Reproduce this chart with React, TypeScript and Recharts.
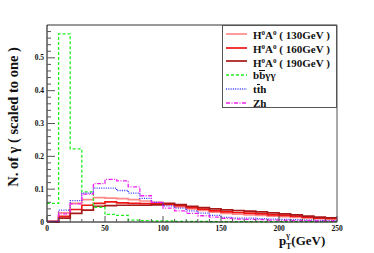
import React from 'react';
import { LineChart, Line, XAxis, YAxis, ReferenceLine } from 'recharts';

// bin left edges (GeV), 10 GeV bins up to 250
const binEdges = [0, 10, 20, 30, 40, 50, 60, 70, 80, 90, 100, 110, 120, 130, 140, 150, 160, 170, 180, 190, 200, 210, 220, 230, 240, 250];

const ha130 = [0.002, 0.028, 0.057, 0.068, 0.074, 0.073, 0.071, 0.068, 0.064, 0.060, 0.052, 0.046, 0.040, 0.035, 0.030, 0.026, 0.024, 0.022, 0.020, 0.018, 0.016, 0.014, 0.011, 0.010, 0.009];
const ha160 = [0.001, 0.017, 0.038, 0.051, 0.057, 0.061, 0.058, 0.057, 0.056, 0.055, 0.054, 0.050, 0.044, 0.039, 0.034, 0.031, 0.029, 0.027, 0.025, 0.022, 0.020, 0.018, 0.015, 0.012, 0.011];
const ha190 = [0.001, 0.012, 0.026, 0.036, 0.048, 0.050, 0.051, 0.051, 0.051, 0.052, 0.057, 0.053, 0.048, 0.044, 0.040, 0.037, 0.035, 0.033, 0.031, 0.028, 0.025, 0.022, 0.018, 0.015, 0.013];
const bbgg = [0.057, 0.573, 0.223, 0.092, 0.045, 0.023, 0.020, 0.006, 0.004, 0.003, 0.003, 0.002, 0.002, 0.002, 0.001, 0.001, 0.001, 0.001, 0.001, 0.001, 0.001, 0.001, 0.001, 0.001, 0.001];
const tth = [0.002, 0.036, 0.065, 0.088, 0.103, 0.103, 0.096, 0.088, 0.072, 0.060, 0.049, 0.042, 0.034, 0.027, 0.020, 0.014, 0.012, 0.012, 0.010, 0.009, 0.008, 0.007, 0.006, 0.005, 0.004];
const zh = [0.001, 0.025, 0.055, 0.085, 0.117, 0.130, 0.125, 0.107, 0.080, 0.060, 0.042, 0.034, 0.026, 0.019, 0.015, 0.011, 0.009, 0.008, 0.007, 0.006, 0.005, 0.004, 0.004, 0.003, 0.003];

const yTicks = [0, 0.02, 0.04, 0.06, 0.08, 0.1, 0.12, 0.14, 0.16, 0.18, 0.2, 0.22, 0.24, 0.26, 0.28, 0.3, 0.32, 0.34, 0.36, 0.38, 0.4, 0.42, 0.44, 0.46, 0.48, 0.5, 0.52, 0.54, 0.56, 0.58];
const yMajor = [0, 0.1, 0.2, 0.3, 0.4, 0.5];

const series = [
  { key: 'ha130', values: ha130, color: '#ff8a8a', width: 1.7, dash: undefined, label: '130GeV' },
  { key: 'ha160', values: ha160, color: '#ee1515', width: 1.7, dash: undefined, label: '160GeV' },
  { key: 'ha190', values: ha190, color: '#a81818', width: 1.7, dash: undefined, label: '190GeV' },
  { key: 'bbgg', values: bbgg, color: '#22ee22', width: 1.3, dash: '3 2', label: 'bb' },
  { key: 'tth', values: tth, color: '#3333ff', width: 1.3, dash: '1 1.3', label: 'tth' },
  { key: 'zh', values: zh, color: '#ee22ee', width: 1.3, dash: '4 1.5 1 1.5', label: 'Zh' },
];

const data = binEdges.map((x, i) => {
  const row: { [k: string]: number } = { x };
  series.forEach((s) => {
    row[s.key] = s.values[Math.min(i, s.values.length - 1)];
  });
  return row;
});

const W = 374;
const H = 253;
const LEFT = 47;
const BOTTOM = 222;
const FONT = '"Liberation Serif", "Times New Roman", serif';

const XTick = (props: any) => {
  const { x, payload } = props;
  const v = payload.value;
  const major = v % 50 === 0;
  return (
    <g>
      <line x1={x} x2={x} y1={BOTTOM} y2={BOTTOM - (major ? 6 : 3)} stroke="#555" strokeWidth={1} />
      {major && (
        <text x={x} y={BOTTOM + 9} textAnchor="middle" fontSize={7.5} fontWeight="bold" fontFamily={FONT} fill="#111">
          {v}
        </text>
      )}
    </g>
  );
};

const YTick = (props: any) => {
  const { y, payload } = props;
  const v = payload.value;
  const major = yMajor.some((m) => Math.abs(m - v) < 1e-6);
  return (
    <g>
      <line x1={LEFT} x2={LEFT + (major ? 8 : 4)} y1={y} y2={y} stroke="#555" strokeWidth={1} />
      {major && (
        <text x={LEFT - 3} y={y + 2.5} textAnchor="end" fontSize={7.5} fontWeight="bold" fontFamily={FONT} fill="#111">
          {v === 0 ? '0' : v.toFixed(1)}
        </text>
      )}
    </g>
  );
};

const bar = (ch: string) => (
  <span style={{ display: 'inline-block', borderTop: '1px solid #111', lineHeight: '9px', paddingTop: 0 }}>{ch}</span>
);

const legendRow = (s: typeof series[number]) => {
  let text: React.ReactNode;
  if (s.key.startsWith('ha')) {
    text = (
      <span>
        H<sup style={{ fontSize: 7, verticalAlign: 4 }}>0</sup>A<sup style={{ fontSize: 7, verticalAlign: 4 }}>0</sup> ( {s.label} )
      </span>
    );
  } else if (s.key === 'bbgg') {
    text = <span>b{bar('b')}γγ</span>;
  } else if (s.key === 'tth') {
    text = <span>t{bar('t')}h</span>;
  } else {
    text = <span>Zh</span>;
  }
  return (
    <div key={s.key} style={{ display: 'flex', alignItems: 'center', height: 13.8 }}>
      <svg width={24} height={6} style={{ marginLeft: 3, marginRight: 3 }}>
        <line x1={0} x2={21} y1={3} y2={3} stroke={s.color} strokeWidth={s.width} strokeDasharray={s.dash} />
      </svg>
      {text}
    </div>
  );
};

export default function App() {
  return (
    <div style={{ position: 'absolute', left: 0, top: 0, width: W, height: H, background: '#fff' }}>
      <LineChart width={W} height={H} data={data} margin={{ top: 25, right: 37, left: 0, bottom: 0 }}>
        <XAxis
          dataKey="x"
          type="number"
          domain={[0, 250]}
          ticks={binEdges}
          interval={0}
          tick={<XTick />}
          tickLine={false}
          axisLine={{ stroke: '#000', strokeWidth: 1 }}
          height={31}
        />
        <YAxis
          type="number"
          domain={[0, 0.6]}
          ticks={yTicks}
          interval={0}
          tick={<YTick />}
          tickLine={false}
          axisLine={{ stroke: '#000', strokeWidth: 1 }}
          width={47}
        />
        <ReferenceLine y={0.6} stroke="#999" strokeWidth={2} ifOverflow="visible" />
        <ReferenceLine x={250} stroke="#555" strokeWidth={1} ifOverflow="visible" />
        {series.map((s) => (
          <Line
            key={s.key}
            type="stepAfter"
            dataKey={s.key}
            stroke={s.color}
            strokeWidth={s.width}
            strokeDasharray={s.dash}
            dot={false}
            activeDot={false}
            isAnimationActive={false}
          />
        ))}
        <text
          transform="translate(18, 117) rotate(-90)"
          textAnchor="middle"
          fontFamily={FONT}
          fontWeight="bold"
          fontSize={14.5}
          fill="#111"
        >
          N. of γ ( scaled to one )
        </text>
        <text x={279} y={245} fontFamily={FONT} fontWeight="bold" fontSize={13} fill="#111">
          p
          <tspan fontSize={8} dy={-7}>γ</tspan>
          <tspan fontSize={8} dx={-4} dy={11}>T</tspan>
          <tspan dy={-4}>(GeV)</tspan>
        </text>
      </LineChart>
      <div
        style={{
          position: 'absolute',
          left: 222,
          top: 25,
          width: 115,
          height: 83,
          border: '1px solid #555',
          background: '#fff',
          boxSizing: 'border-box',
          paddingTop: 1,
          fontFamily: FONT,
          fontWeight: 'bold',
          fontSize: 11,
          lineHeight: '12px',
          color: '#111',
        }}
      >
        {series.map(legendRow)}
      </div>
    </div>
  );
}
